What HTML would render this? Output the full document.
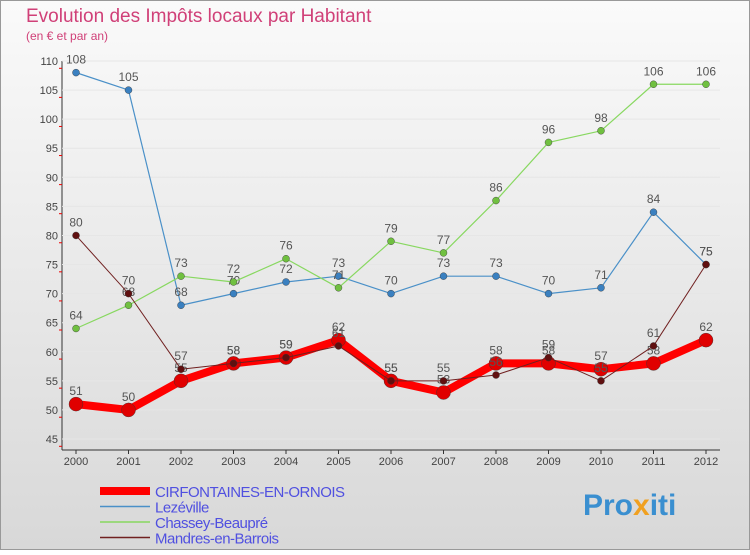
<!DOCTYPE html>
<html><head><meta charset="utf-8"><style>
body{margin:0;width:750px;height:550px;overflow:hidden;font-family:"Liberation Sans",sans-serif}
</style></head><body>
<svg width="750" height="550" xmlns="http://www.w3.org/2000/svg">
<defs><linearGradient id="bg" x1="0" y1="0" x2="0" y2="1"><stop offset="0" stop-color="#fafafa"/><stop offset="1" stop-color="#d8d8d8"/></linearGradient></defs>
<rect x="0.5" y="0.5" width="749" height="549" fill="url(#bg)" stroke="#999"/>
<text x="26" y="22" font-size="19" fill="#d04078">Evolution des Impôts locaux par Habitant</text>
<text x="26" y="40" font-size="12" fill="#d04078">(en € et par an)</text>
<g id="axes"></g>
<g id="series"></g>
<g id="legend"></g>
<text x="583" y="515" font-size="30" font-weight="bold" fill="#3a8fd0">Pro<tspan fill="#f0a020">x</tspan>iti</text>
</svg>
<script>
const years=[2000,2001,2002,2003,2004,2005,2006,2007,2008,2009,2010,2011,2012];
const yTicks=[45,50,55,60,65,70,75,80,85,90,95,100,105,110];
const cirf=[51,50,55,58,59,62,55,53,58,58,57,58,62];
const lez=[108,105,68,70,72,73,70,73,73,70,71,84,75];
const chas=[64,68,73,72,76,71,79,77,86,96,98,106,106];
const mand=[80,70,57,58,59,61,55,55,56,59,55,61,75];
const names=["CIRFONTAINES-EN-ORNOIS","Lezéville","Chassey-Beaupré","Mandres-en-Barrois"];
const NS="http://www.w3.org/2000/svg";
const X=i=>76+i*52.5, Y=v=>61+(110-v)*(378/65);
function mk(t,a,p){const e=document.createElementNS(NS,t);for(const k in a)e.setAttribute(k,a[k]);p.appendChild(e);return e;}
const ax=document.getElementById('axes');
let e=mk('line',{x1:62,y1:61,x2:62,y2:450,stroke:'#333'},ax);
e=mk('line',{x1:62,y1:450,x2:720,y2:450,stroke:'#333'},ax);
yTicks.forEach(v=>{const y=Y(v);
 const g=mk('line',{x1:62,y1:y,x2:720,y2:y,stroke:'#e6e6e6'},ax);
 const t=mk('text',{x:58,y:y+4,'font-size':11,'text-anchor':'end',fill:'#444'},ax);t.textContent=v;
 const m=mk('line',{x1:59,y1:y+7.3,x2:62,y2:y+7.3,stroke:'#e00'},ax);});
years.forEach((yr,i)=>{const t=mk('text',{x:X(i),y:465,'font-size':11,'text-anchor':'middle',fill:'#444'},ax);t.textContent=yr;
 const m=mk('line',{x1:X(i),y1:450,x2:X(i),y2:454,stroke:'#333'},ax);});
const sg=document.getElementById('series');
const defs=[[lez,'#4a90c8',1.2,3.5,'#3a80c0','lezeville'],[chas,'#88d860',1.2,3.5,'#70c040','chassey'],[cirf,'#ff0000',8,7,'#e00000','cirfontaines'],[mand,'#702020',1,3.5,'#601010','mandres']];
defs.forEach(([d,c,w,r,fc,n])=>{
 const p=mk('polyline',{points:d.map((v,i)=>X(i)+','+Y(v)).join(' '),fill:'none',stroke:c,'stroke-width':w,'stroke-linejoin':'round'},sg);
 
 d.forEach((v,i)=>{const ci=mk('circle',{cx:X(i),cy:Y(v),r:r,fill:fc,stroke:'#333','stroke-width':0.4},sg);
  const t=mk('text',{x:X(i),y:Y(v)-9,'font-size':12,'text-anchor':'middle',fill:'#555'},sg);t.textContent=v;});
});
const lg=document.getElementById('legend');
const lc=[['#ff0000',8],['#4a90c8',1.5],['#88d860',1.5],['#702020',1.5]];
names.forEach((nm,i)=>{const y=491+i*15.5;
 const l=mk('line',{x1:100,y1:y,x2:150,y2:y,stroke:lc[i][0],'stroke-width':lc[i][1]},lg);
 const t=mk('text',{x:155,y:y+6,'font-size':15,fill:'#5050e0','letter-spacing':'-0.5'},lg);t.textContent=nm;});
</script>
</body></html>
